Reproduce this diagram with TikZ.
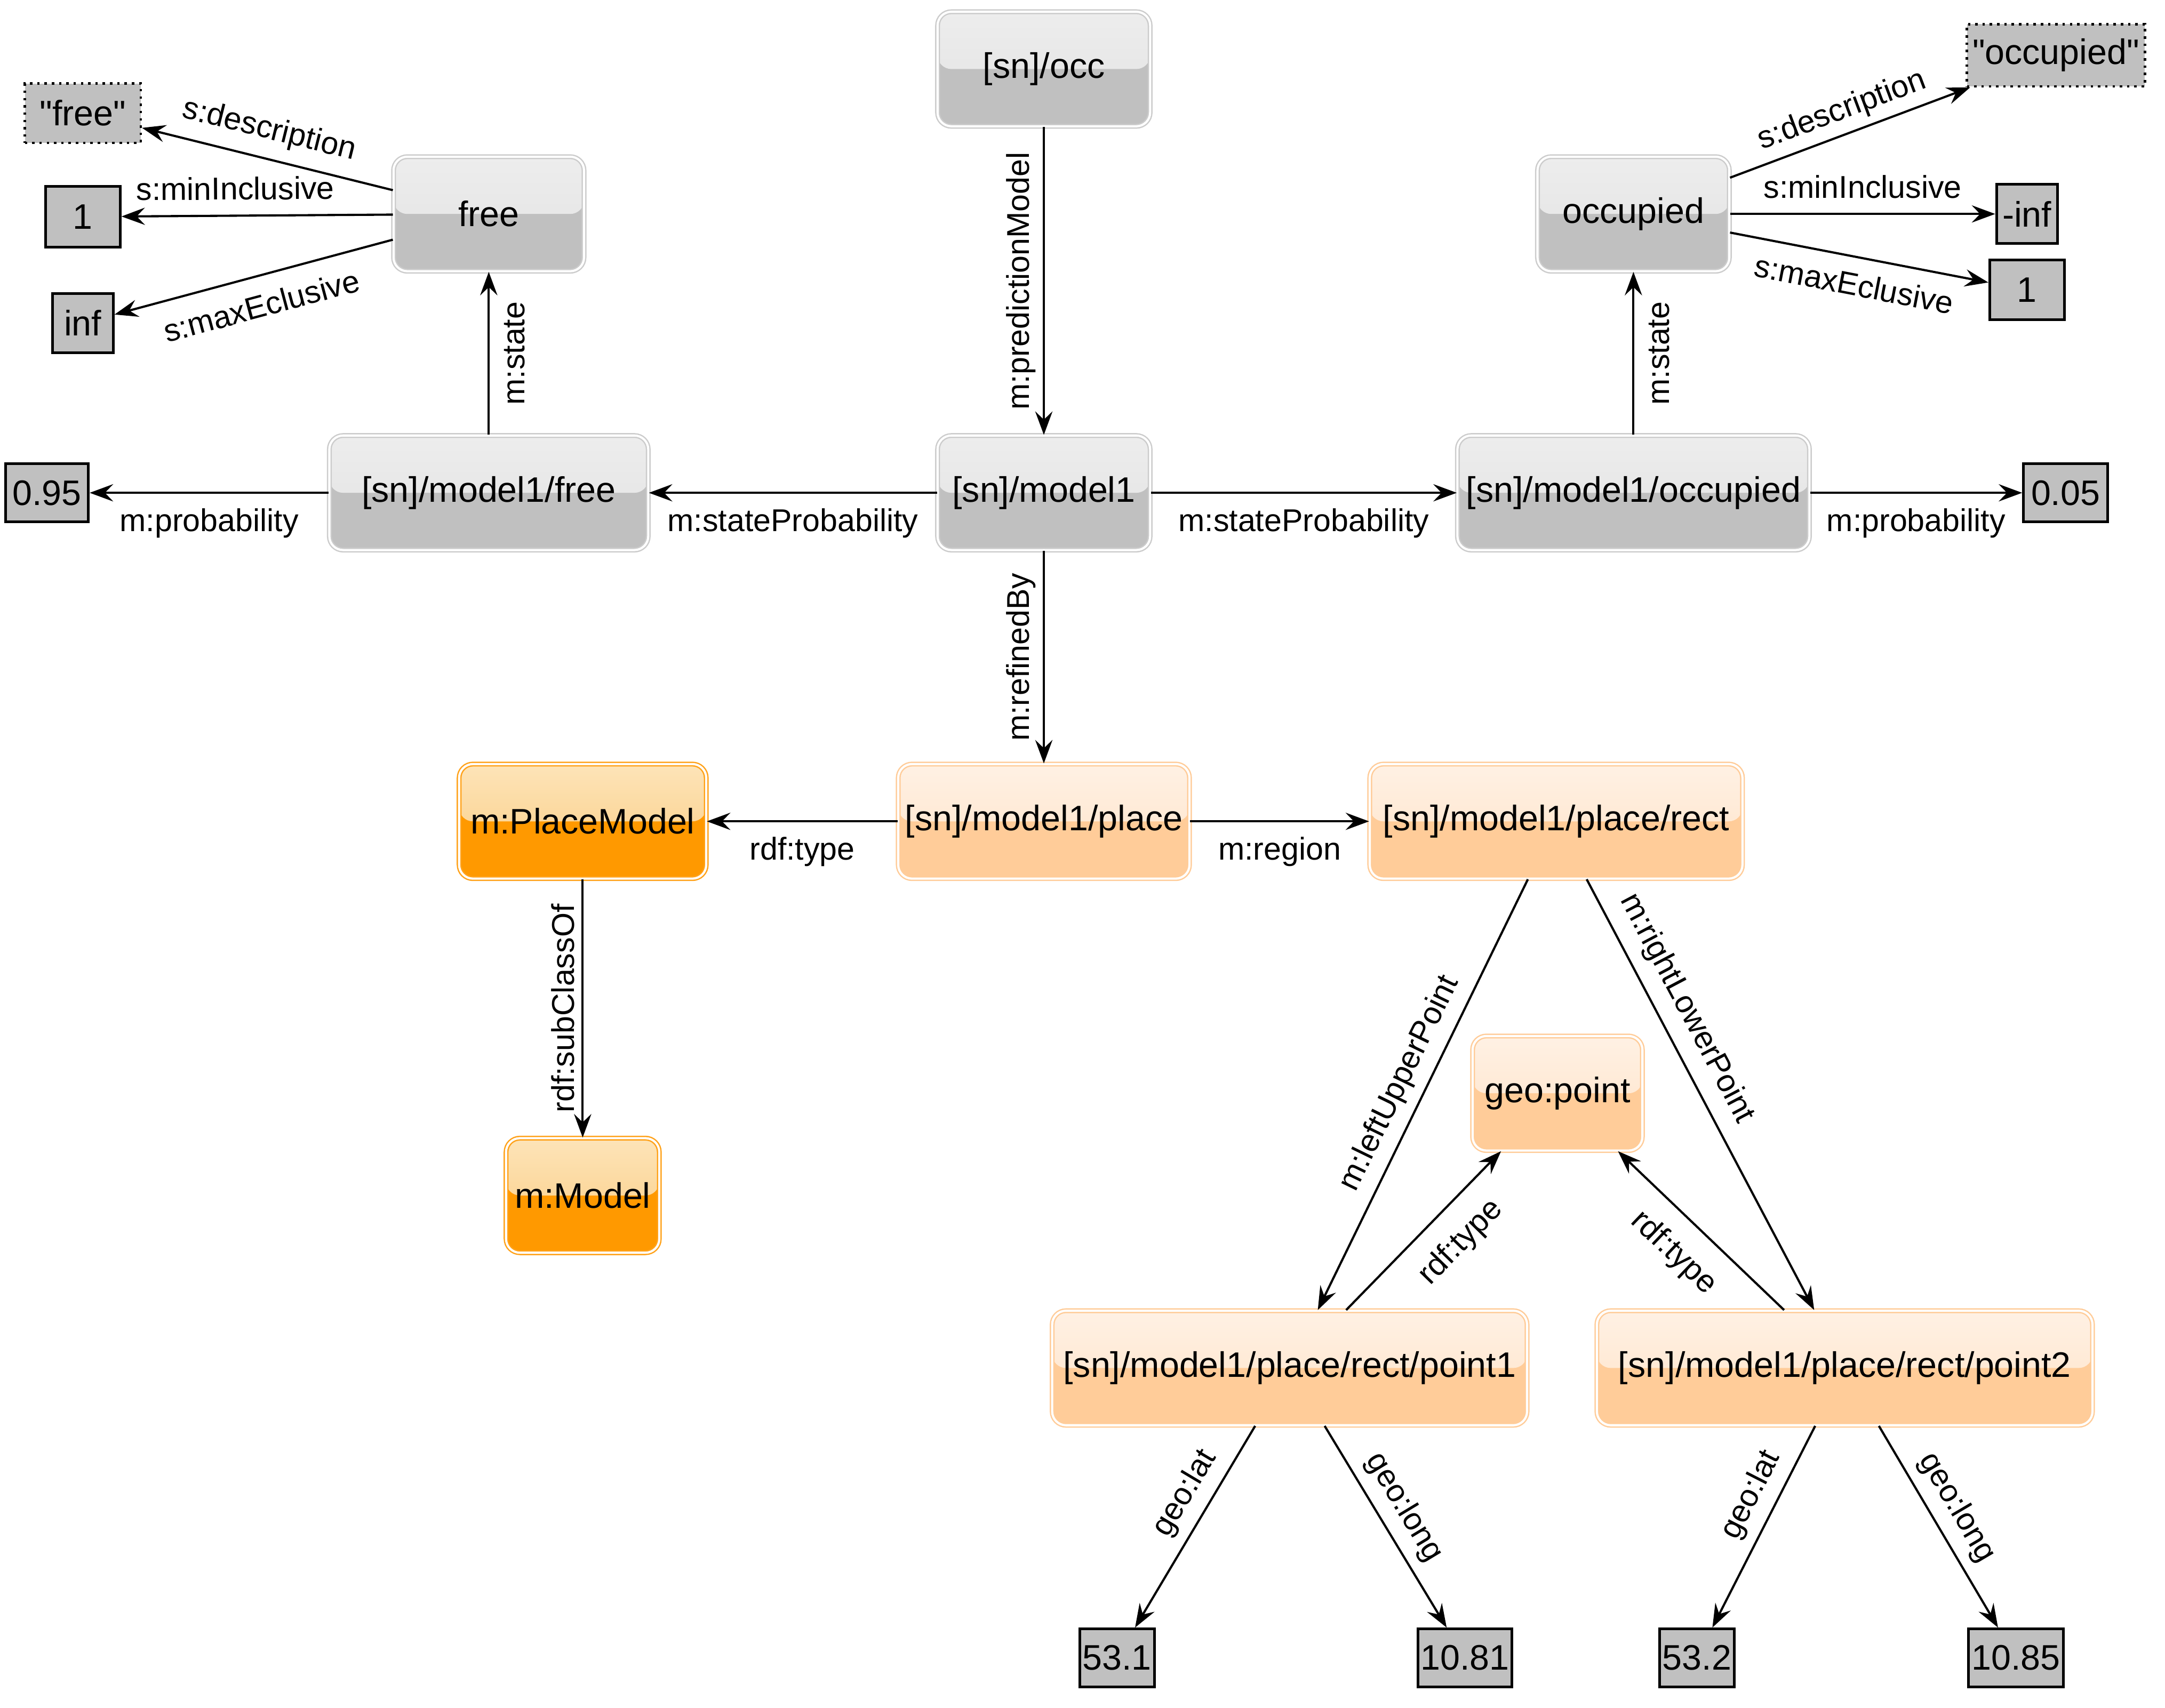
\documentclass[tikz,border=0pt]{standalone}
\usepackage{fontspec}
\setmainfont{Liberation Sans}
\newfontfamily\qfont{Liberation Sans}
\usetikzlibrary{arrows.meta}
\newcommand\ndfont{\fontsize{14.6}{17}\selectfont}
\newcommand\lbfont{\fontsize{13}{15}\selectfont}
\definecolor{gtt}{HTML}{EDEDED}
\definecolor{gtm}{HTML}{E2E2E2}
\definecolor{gtb}{HTML}{C0C0C0}
\definecolor{gbd}{HTML}{CCCCCC}
\definecolor{ott}{HTML}{FDE4B8}
\definecolor{otm}{HTML}{FBCB80}
\definecolor{otb}{HTML}{FF9900}
\definecolor{obd}{HTML}{FFA21A}
\definecolor{ptt}{HTML}{FFF1E4}
\definecolor{ptm}{HTML}{FFE2C6}
\definecolor{ptb}{HTML}{FFCC99}
\definecolor{pbd}{HTML}{FFCC99}
\definecolor{litgray}{HTML}{C0C0C0}
\tikzset{
  gbox/.style={rectangle, rounded corners=0.2cm, minimum height=1.66cm, inner sep=2pt,
    font=\ndfont, line width=0.55pt, double=white, double distance=0.9pt},
  gloss/.style 2 args={path picture={\fill[top color=#1, bottom color=#2]
    (path picture bounding box.north west) rectangle (path picture bounding box.east);}},
  graynode/.style={gbox, draw=gbd, fill=gtb, gloss={gtt}{gtm}},
  orangenode/.style={gbox, draw=obd, fill=otb, gloss={ott}{otm}},
  peachnode/.style={gbox, draw=pbd, fill=ptb, gloss={ptt}{ptm}},
  lit/.style={rectangle, draw=black, line width=1.1pt, fill=litgray, inner sep=1pt, font=\ndfont},
  litd/.style={lit, line width=1pt, dash pattern=on 1pt off 2pt},
  e/.style={-{Stealth[length=0.34cm, width=0.25cm, inset=0.12cm]}, line width=0.9pt},
  lab/.style={font=\lbfont, inner sep=3pt}
}
\begin{document}
\begin{tikzpicture}[x=0.02cm, y=-0.02cm]
\useasboundingbox (0,0) rectangle (1568,1237);
% gray nodes
\node[graynode, minimum width=3.08cm] (occ) at (756,50) {[sn]/occ};
\node[graynode, minimum width=2.76cm] (free) at (354,155) {free};
\node[graynode, minimum width=2.78cm] (occu) at (1183,155) {occupied};
\node[graynode, minimum width=4.62cm] (mfree) at (354,357) {[sn]/model1/free};
\node[graynode, minimum width=3.08cm] (m1) at (756,357) {[sn]/model1};
\node[graynode, minimum width=5.10cm] (mocc) at (1183,357) {[sn]/model1/occupied};
% literals top
\node[litd, minimum width=1.68cm, minimum height=0.86cm] (lfree) at (60,82) {\qfont"free"};
\node[lit, minimum width=1.08cm, minimum height=0.88cm] (l1) at (60,157) {1};
\node[lit, minimum width=0.88cm, minimum height=0.86cm] (linf) at (60,234) {inf};
\node[lit, minimum width=1.2cm, minimum height=0.84cm] (l095) at (34,357) {0.95};
\node[litd, minimum width=2.58cm, minimum height=0.9cm] (locc) at (1489,40) {\qfont"occupied"};
\node[lit, minimum width=0.88cm, minimum height=0.86cm] (lminf) at (1468,155) {-inf};
\node[lit, minimum width=1.08cm, minimum height=0.86cm] (l1b) at (1468,210) {1};
\node[lit, minimum width=1.22cm, minimum height=0.84cm] (l005) at (1496,357) {0.05};
% orange nodes
\node[orangenode, minimum width=3.58cm] (pm) at (422,595) {m:PlaceModel};
\node[peachnode, minimum width=4.22cm] (place) at (756,595) {[sn]/model1/place};
\node[peachnode, minimum width=5.40cm] (rect) at (1127,595) {[sn]/model1/place/rect};
\node[orangenode, minimum width=2.22cm] (mm) at (422,866) {m:Model};
\node[peachnode, minimum width=2.46cm] (gp) at (1128,792) {geo:point};
\node[peachnode, minimum width=6.88cm] (p1) at (934,991) {[sn]/model1/place/rect/point1};
\node[peachnode, minimum width=7.18cm] (p2) at (1336,991) {[sn]/model1/place/rect/point2};
% literals bottom
\node[lit, minimum width=1.08cm, minimum height=0.84cm] (l531) at (809,1201) {53.1};
\node[lit, minimum width=1.36cm, minimum height=0.84cm] (l1081) at (1061,1201) {10.81};
\node[lit, minimum width=1.08cm, minimum height=0.84cm] (l532) at (1229,1201) {53.2};
\node[lit, minimum width=1.38cm, minimum height=0.84cm] (l1085) at (1460,1201) {10.85};
% edges
\draw[e] (occ) -- node[lab, midway, rotate=90, anchor=south] {m:predictionModel} (m1);
\draw[e] (m1) -- node[lab, midway, below=3pt] {m:stateProbability} (mfree);
\draw[e] (m1) -- node[lab, midway, below=3pt] {m:stateProbability} (mocc);
\draw[e] (mfree) -- node[lab, midway, below=3pt] {m:probability} (l095);
\draw[e] (mocc) -- node[lab, midway, below=3pt] {m:probability} (l005);
\draw[e] (mfree) -- node[lab, midway, xshift=3pt, rotate=90, anchor=north] {m:state} (free);
\draw[e] (mocc) -- node[lab, midway, xshift=3pt, rotate=90, anchor=north] {m:state} (occu);
\draw[e] (free) -- node[lab, pos=0.52, sloped, above=2pt] {s:description} (lfree);
\draw[e] (free) -- node[lab, pos=0.58, sloped, above=3pt] {s:minInclusive} (l1);
\draw[e] (free) -- node[lab, midway, sloped, below=4pt] {s:maxEclusive} (linf);
\draw[e] (occu) -- node[lab, midway, sloped, above] {s:description} (locc);
\draw[e] (occu) -- node[lab, midway, above=3pt] {s:minInclusive} (lminf);
\draw[e] (occu) -- node[lab, midway, sloped, below=3pt] {s:maxEclusive} (l1b);
\draw[e] (m1) -- node[lab, midway, rotate=90, anchor=south] {m:refinedBy} (place);
\draw[e] (place) -- node[lab, midway, below=3pt] {rdf:type} (pm);
\draw[e] (place) -- node[lab, midway, below=3pt] {m:region} (rect);
\draw[e] (pm) -- node[lab, midway, rotate=90, anchor=south] {rdf:subClassOf} (mm);
\draw[e] (rect) -- node[lab, midway, sloped, above=1pt] {m:leftUpperPoint} (p1);
\draw[e] (rect) -- node[lab, pos=0.33, sloped, above=2pt] {m:rightLowerPoint} (p2);
\draw[e] (p1) -- node[lab, pos=0.58, sloped, below=5pt] {rdf:type} (gp);
\draw[e] (p2) -- node[lab, pos=0.52, sloped, below=5pt] {rdf:type} (gp);
\draw[e] (p1) -- node[lab, pos=0.40, sloped, above=1pt] {geo:lat} (l531);
\draw[e] (p1) -- node[lab, pos=0.47, sloped, above=1pt] {geo:long} (l1081);
\draw[e] (p2) -- node[lab, pos=0.40, sloped, above=1pt] {geo:lat} (l532);
\draw[e] (p2) -- node[lab, pos=0.47, sloped, above=1pt] {geo:long} (l1085);
\end{tikzpicture}
\end{document}
